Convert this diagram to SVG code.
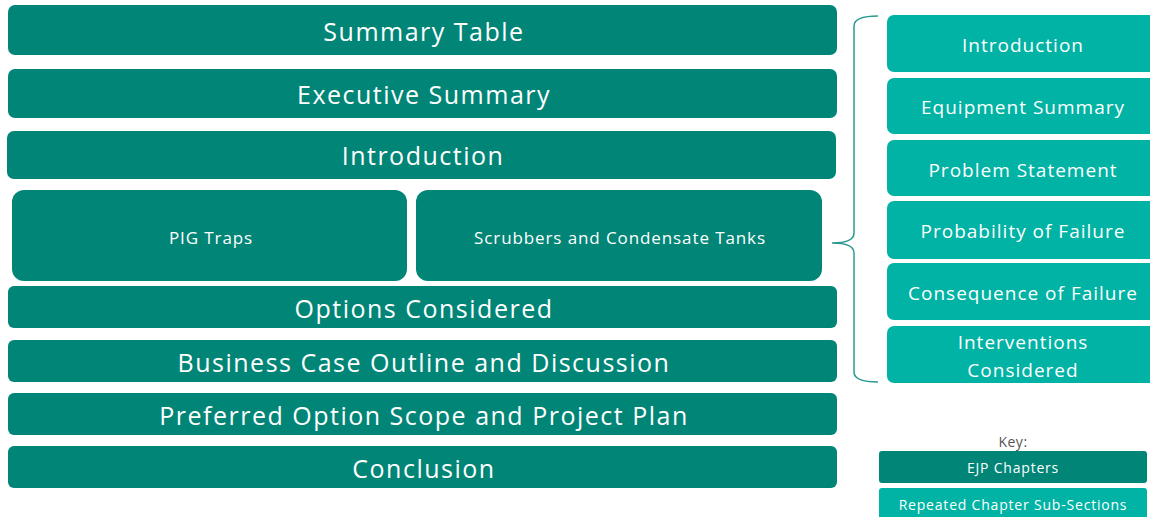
<svg xmlns="http://www.w3.org/2000/svg" width="1150" height="517" viewBox="0 0 1150 517">
<style>
.ch{fill:#018577}
.sub{fill:#00b3a4}
.t{font-family:"Open Sans","Liberation Sans",sans-serif;fill:#ffffff;text-anchor:middle;dominant-baseline:central}
.big{font-size:25px;letter-spacing:1.5px}
.mid{font-size:17px;letter-spacing:0.9px}
.rt{font-size:19px;letter-spacing:1px}
.k{font-size:14px;letter-spacing:0.8px}
</style>
<rect width="1150" height="517" fill="#ffffff"/>
<g id="summary-table"><rect class="ch" x="8" y="5" width="829" height="50" rx="7"/><text class="t big" x="424" y="31">Summary Table</text></g>
<g id="executive-summary"><rect class="ch" x="8" y="69" width="829" height="49" rx="7"/><text class="t big" x="424" y="94">Executive Summary</text></g>
<g id="introduction"><rect class="ch" x="7" y="131" width="829" height="48" rx="7"/><text class="t big" x="423" y="155">Introduction</text></g>
<g id="pig-traps"><rect class="ch" x="12" y="190" width="395" height="91" rx="12"/><text class="t mid" x="211" y="237">PIG Traps</text></g>
<g id="scrubbers"><rect class="ch" x="416" y="190" width="406" height="91" rx="12"/><text class="t mid" x="620" y="237">Scrubbers and Condensate Tanks</text></g>
<g id="options-considered"><rect class="ch" x="8" y="286" width="829" height="42" rx="6"/><text class="t big" x="424" y="308">Options Considered</text></g>
<g id="business-case"><rect class="ch" x="8" y="340" width="829" height="42" rx="6"/><text class="t big" x="424" y="362">Business Case Outline and Discussion</text></g>
<g id="preferred-option"><rect class="ch" x="8" y="393" width="829" height="42" rx="6"/><text class="t big" x="424" y="415">Preferred Option Scope and Project Plan</text></g>
<g id="conclusion"><rect class="ch" x="8" y="446" width="829" height="42" rx="6"/><text class="t big" x="424" y="468">Conclusion</text></g>

<g id="sub-introduction"><rect class="sub" x="887" y="15" width="280" height="57" rx="7"/><text class="t rt" x="1023" y="45">Introduction</text></g>
<g id="sub-equipment"><rect class="sub" x="887" y="78" width="280" height="56" rx="7"/><text class="t rt" x="1023" y="107">Equipment Summary</text></g>
<g id="sub-problem"><rect class="sub" x="887" y="140" width="280" height="56" rx="7"/><text class="t rt" x="1023" y="170">Problem Statement</text></g>
<g id="sub-probability"><rect class="sub" x="887" y="201" width="280" height="58" rx="7"/><text class="t rt" x="1023" y="231">Probability of Failure</text></g>
<g id="sub-consequence"><rect class="sub" x="887" y="263" width="280" height="57" rx="7"/><text class="t rt" x="1023" y="293">Consequence of Failure</text></g>
<g id="sub-interventions"><rect class="sub" x="887" y="326" width="280" height="57" rx="7"/><text class="t rt" x="1023" y="342">Interventions</text><text class="t rt" x="1023" y="370">Considered</text></g>

<g id="connectors"><path d="M878 16 Q854 16 854 26 L854 233 Q854 243 832 243 Q854 243 854 253 L854 372 Q854 382 878 382" fill="none" stroke="#2b9a90" stroke-width="1.5"/></g>

<g id="key">
<text x="1013" y="441" font-family="'Open Sans','Liberation Sans',sans-serif" font-size="14" letter-spacing="0.5" fill="#555555" text-anchor="middle" dominant-baseline="central">Key:</text>
<rect class="ch" x="879" y="451" width="268" height="32" rx="3"/><text class="t k" x="1013" y="467">EJP Chapters</text>
<rect class="sub" x="879" y="488" width="268" height="40" rx="3"/><text class="t k" x="1013" y="504">Repeated Chapter Sub-Sections</text>
</g>
</svg>
